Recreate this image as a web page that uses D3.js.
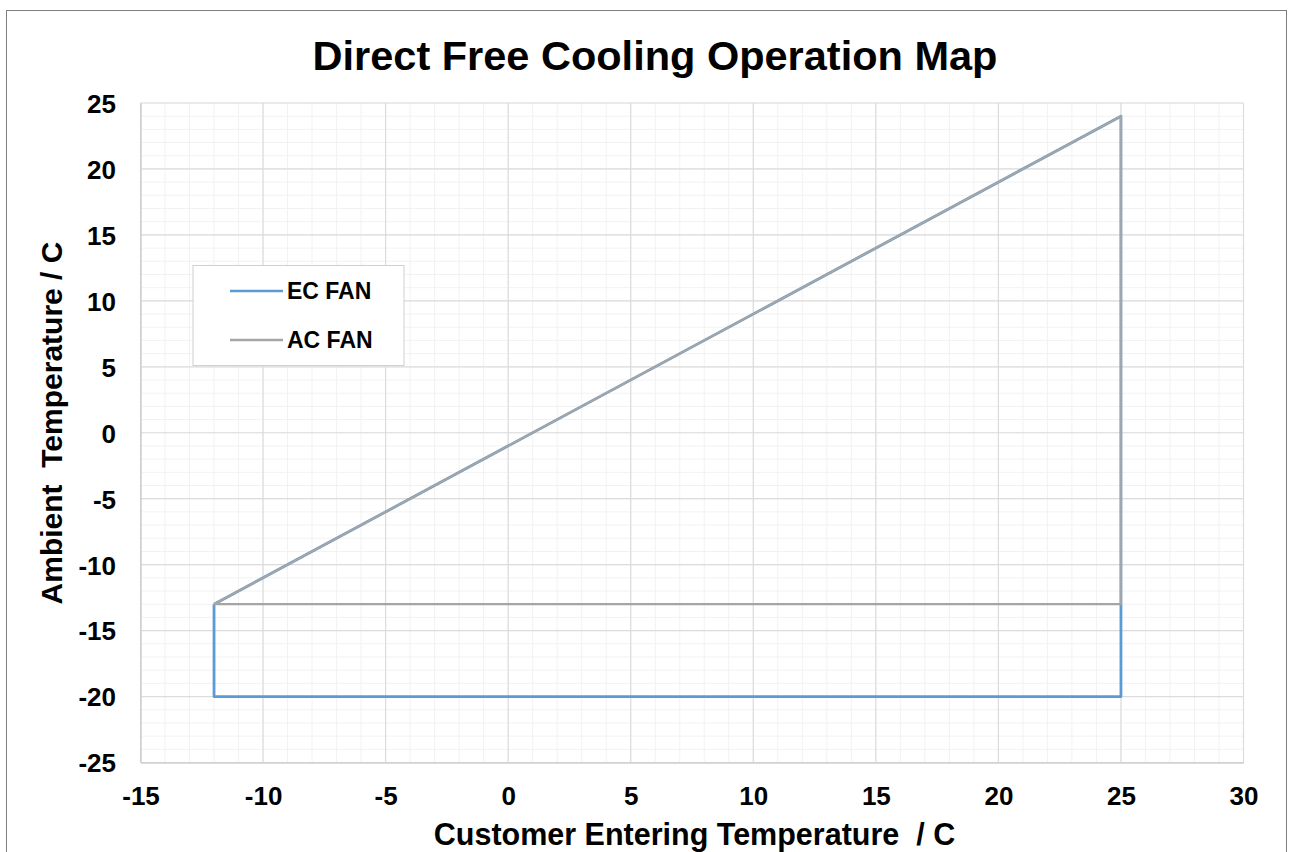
<!DOCTYPE html>
<html>
<head>
<meta charset="utf-8">
<script src="https://cdn.jsdelivr.net/npm/d3@7"></script>
<style>
  html, body { margin: 0; padding: 0; background: #fff; }
  svg { display: block; font-family: "Liberation Sans", Arial, sans-serif; }
</style>
</head>
<body>
<svg id="chart" width="1290" height="852"></svg>
<script>
// Operating envelope outlines (x: customer entering temp, y: ambient temp)
const ecFanX = [-12, -12, 25, 25, -12];
const ecFanY = [-13, -20, -20, 24, -13];
const acFanX = [-12, 25, 25, -12];
const acFanY = [-13, 24, -13, -13];

const seriesNames = ["EC FAN", "AC FAN"];
const seriesColors = ["#5b9bd5", "#a5a5a5"];

const xTicks = [-15, -10, -5, 0, 5, 10, 15, 20, 25, 30];
const yTicks = [-25, -20, -15, -10, -5, 0, 5, 10, 15, 20, 25];

const svg = d3.select("#chart");
const FONT = "Liberation Sans, Arial, sans-serif";

// outer chart frame
svg.append("rect")
  .attr("x", 6.5).attr("y", 10.5)
  .attr("width", 1280).attr("height", 860)
  .attr("fill", "#fff").attr("stroke", "#7f7f7f").attr("stroke-width", 1);

const plot = { left: 140.5, top: 103, right: 1243.5, bottom: 762.5 };

const x = d3.scaleLinear().domain([-15, 30]).range([plot.left, plot.right]);
const y = d3.scaleLinear().domain([-25, 25]).range([plot.bottom, plot.top]);

// minor grid
const g = svg.append("g");
g.selectAll(".vminor").data(d3.range(-15, 31, 1)).join("line")
  .attr("x1", d => x(d)).attr("x2", d => x(d))
  .attr("y1", plot.top).attr("y2", plot.bottom)
  .attr("stroke", "#f2f2f2").attr("stroke-width", 1);
g.selectAll(".hminor").data(d3.range(-25, 26, 1)).join("line")
  .attr("y1", d => y(d)).attr("y2", d => y(d))
  .attr("x1", plot.left).attr("x2", plot.right)
  .attr("stroke", "#f2f2f2").attr("stroke-width", 1);

// major grid
g.selectAll(".vmajor").data(xTicks).join("line")
  .attr("x1", d => x(d)).attr("x2", d => x(d))
  .attr("y1", plot.top).attr("y2", plot.bottom)
  .attr("stroke", "#dcdcdc").attr("stroke-width", 1.2);
g.selectAll(".hmajor").data(yTicks).join("line")
  .attr("y1", d => y(d)).attr("y2", d => y(d))
  .attr("x1", plot.left).attr("x2", plot.right)
  .attr("stroke", "#dcdcdc").attr("stroke-width", 1.2);

// axes: plain hyphen-minus labels
const fmt = d => String(d);
const xAxis = d3.axisBottom(x).tickValues(xTicks).tickFormat(fmt).tickSize(0);
const yAxis = d3.axisLeft(y).tickValues(yTicks).tickFormat(fmt).tickSize(0).tickPadding(24.5);

const gx = svg.append("g").attr("transform", `translate(0,${plot.bottom})`).call(xAxis);
gx.select(".domain").attr("stroke", "#cfcfcf").attr("stroke-width", 1.5);
gx.selectAll("text").attr("font-size", 26).attr("font-weight", "bold").attr("fill", "#000")
  .attr("font-family", FONT).attr("dy", null).attr("y", 42.5);

const gy = svg.append("g").attr("transform", `translate(${plot.left},0)`).call(yAxis);
gy.select(".domain").attr("stroke", "#cfcfcf").attr("stroke-width", 1.5);
gy.selectAll("text").attr("font-size", 26).attr("font-weight", "bold").attr("fill", "#000")
  .attr("font-family", FONT).attr("dy", "0.36em");

// series lines
const line = d3.line().x(d => x(d[0])).y(d => y(d[1]));
const ecPts = ecFanX.map((v, i) => [v, ecFanY[i]]);
const acPts = acFanX.map((v, i) => [v, acFanY[i]]);

svg.append("path").datum(ecPts).attr("d", line)
  .attr("fill", "none").attr("stroke", seriesColors[0]).attr("stroke-width", 2.8)
  .attr("stroke-linejoin", "round");
svg.append("path").datum(acPts).attr("d", line)
  .attr("fill", "none").attr("stroke", seriesColors[1]).attr("stroke-width", 2.2)
  .attr("stroke-linejoin", "round");

// title
svg.append("text")
  .attr("x", 655).attr("y", 70)
  .attr("text-anchor", "middle")
  .attr("font-size", 41.5).attr("font-weight", "bold").attr("fill", "#000")
  .text("Direct Free Cooling Operation Map");

// axis titles
svg.append("text")
  .attr("x", 694.5).attr("y", 845)
  .attr("text-anchor", "middle")
  .attr("font-size", 30.5).attr("font-weight", "bold").attr("fill", "#000")
  .attr("xml:space", "preserve")
  .text("Customer Entering Temperature  / C");

svg.append("text")
  .attr("transform", "translate(62,423) rotate(-90)")
  .attr("text-anchor", "middle")
  .attr("font-size", 30).attr("font-weight", "bold").attr("fill", "#000")
  .attr("xml:space", "preserve")
  .text("Ambient  Temperature / C");

// legend
const leg = svg.append("g");
leg.append("rect")
  .attr("x", 193).attr("y", 265.5).attr("width", 211).attr("height", 100)
  .attr("fill", "#fff").attr("stroke", "#d0d0d0").attr("stroke-width", 1);
seriesNames.forEach((name, i) => {
  const ly = 291 + i * 49;
  leg.append("line")
    .attr("x1", 230).attr("x2", 283).attr("y1", ly).attr("y2", ly)
    .attr("stroke", seriesColors[i]).attr("stroke-width", 2.5);
  leg.append("text")
    .attr("x", 287).attr("y", ly + 8)
    .attr("font-size", 23).attr("font-weight", "bold").attr("fill", "#000")
    .text(name);
});
</script>
</body>
</html>
